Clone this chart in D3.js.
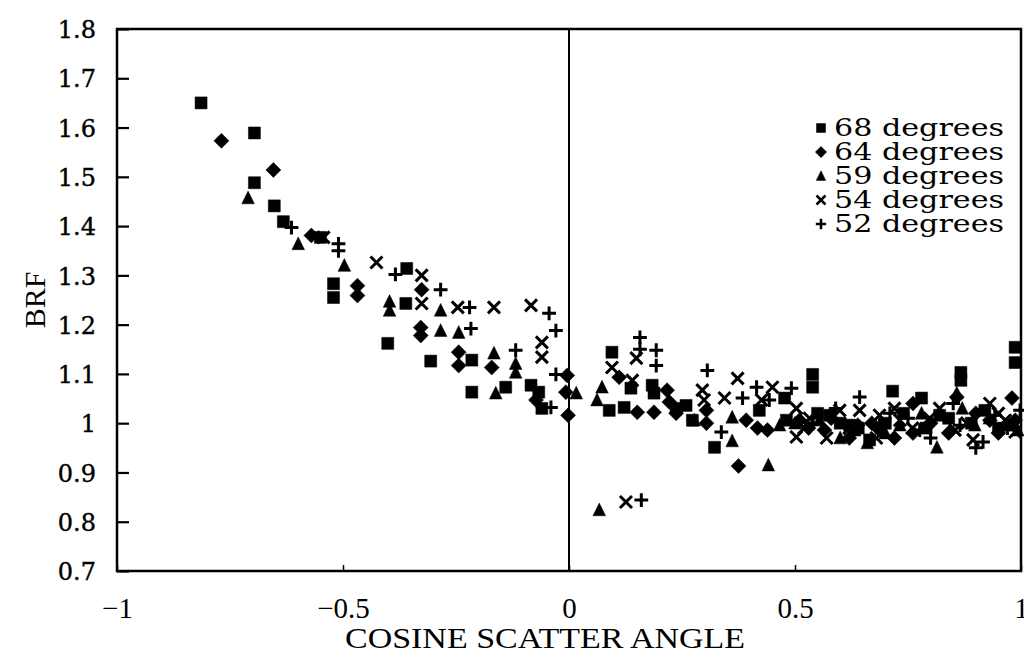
<!DOCTYPE html>
<html>
<head>
<meta charset="utf-8">
<script src="https://cdn.jsdelivr.net/npm/d3@7"></script>
<style>
  html, body { margin: 0; padding: 0; background: #fff; }
  svg { display: block; }
</style>
</head>
<body>
<svg id="chart" width="1024" height="654"></svg>
<script>
// BRF versus cosine of scatter angle, one series per solar zenith angle.
const seriesNames = ["68 degrees", "64 degrees", "59 degrees", "54 degrees", "52 degrees"];
const seriesShapes = ["square", "diamond", "triangle", "cross", "plus"];

const xTicks = [-1, -0.5, 0, 0.5, 1];
const xTickLabels = ["\u22121", "\u22120.5", "0", "0.5", "1"];
const yTicks = [0.7, 0.8, 0.9, 1.0, 1.1, 1.2, 1.3, 1.4, 1.5, 1.6, 1.7, 1.8];
const yTickLabels = ["0.7", "0.8", "0.9", "1", "1.1", "1.2", "1.3", "1.4", "1.5", "1.6", "1.7", "1.8"];

// [cosine scatter angle, BRF]
const deg68 = [
  [-0.814, 1.650], [-0.696, 1.589], [-0.696, 1.488], [-0.652, 1.441], [-0.632, 1.409],
  [-0.550, 1.377], [-0.521, 1.283], [-0.521, 1.255], [-0.359, 1.314], [-0.361, 1.243],
  [-0.401, 1.162], [-0.306, 1.126], [-0.215, 1.128], [-0.215, 1.063], [-0.140, 1.073],
  [-0.084, 1.077], [-0.067, 1.063], [-0.060, 1.030], [0.095, 1.144], [0.089, 1.026],
  [0.122, 1.032], [0.137, 1.071], [0.184, 1.077], [0.188, 1.061], [0.237, 1.030],
  [0.259, 1.036], [0.273, 1.006], [0.322, 0.951], [0.477, 1.051], [0.481, 1.006],
  [0.539, 1.099], [0.539, 1.073], [0.576, 1.016], [0.621, 0.996], [0.716, 1.065],
  [0.780, 1.051], [0.820, 1.016], [0.867, 1.103], [0.867, 1.087], [0.920, 1.026],
  [0.987, 1.154], [0.987, 1.123], [0.976, 0.996], [0.665, 0.966], [0.421, 1.026],
  [0.550, 1.020], [0.600, 1.000], [0.640, 0.990], [0.700, 1.000], [0.740, 1.020],
  [0.790, 0.990], [0.840, 1.010], [0.890, 1.000], [0.950, 0.990]
];
const deg64 = [
  [-0.769, 1.573], [-0.654, 1.514], [-0.570, 1.381], [-0.468, 1.279], [-0.468, 1.259],
  [-0.326, 1.271], [-0.328, 1.194], [-0.328, 1.178], [-0.244, 1.144], [-0.244, 1.117],
  [-0.171, 1.113], [-0.073, 1.047], [-0.004, 1.097], [-0.007, 1.063], [-0.002, 1.016],
  [0.111, 1.093], [0.151, 1.022], [0.188, 1.022], [0.217, 1.067], [0.222, 1.043],
  [0.237, 1.020], [0.304, 1.026], [0.304, 1.000], [0.375, 0.913], [0.392, 1.006],
  [0.417, 0.990], [0.439, 0.986], [0.510, 1.006], [0.565, 0.986], [0.639, 0.996],
  [0.687, 0.986], [0.761, 1.040], [0.761, 0.980], [0.858, 1.053], [0.931, 1.006],
  [0.980, 1.051], [0.987, 1.006],
  [0.530, 0.990], [0.580, 1.010], [0.620, 0.970], [0.670, 1.000], [0.720, 0.970],
  [0.800, 1.000], [0.840, 0.980], [0.900, 1.020], [0.950, 0.980]
];
const deg59 = [
  [-0.710, 1.457], [-0.599, 1.364], [-0.497, 1.320], [-0.397, 1.247], [-0.397, 1.229],
  [-0.284, 1.229], [-0.284, 1.188], [-0.244, 1.184], [-0.166, 1.142], [-0.118, 1.121],
  [-0.118, 1.103], [-0.162, 1.061], [0.016, 1.061], [0.073, 1.073], [0.062, 1.047],
  [0.067, 0.824], [0.277, 1.006], [0.361, 0.964], [0.441, 0.915], [0.361, 1.012],
  [0.466, 0.996], [0.554, 1.006], [0.632, 0.986], [0.732, 0.996], [0.814, 0.951],
  [0.858, 1.061], [0.898, 0.996], [0.993, 0.986],
  [0.500, 1.000], [0.600, 0.970], [0.660, 0.960], [0.700, 0.980], [0.780, 1.020],
  [0.870, 1.030], [0.930, 1.010]
];
const deg54 = [
  [-0.543, 1.377], [-0.426, 1.326], [-0.326, 1.300], [-0.326, 1.243], [-0.246, 1.235],
  [-0.166, 1.235], [-0.084, 1.239], [-0.060, 1.164], [-0.060, 1.134], [0.095, 1.113],
  [0.149, 1.132], [0.140, 1.087], [0.126, 0.840], [0.295, 1.067], [0.299, 1.047],
  [0.373, 1.091], [0.344, 1.051], [0.450, 1.073], [0.426, 1.047], [0.503, 1.030],
  [0.503, 0.972], [0.532, 1.010], [0.599, 1.026], [0.643, 1.026], [0.687, 1.016],
  [0.732, 1.006], [0.798, 1.010], [0.854, 0.986], [0.894, 0.966], [0.931, 1.040],
  [0.965, 1.006], [0.987, 0.982],
  [0.520, 0.990], [0.570, 0.970], [0.620, 0.990], [0.680, 0.970], [0.720, 1.030],
  [0.760, 0.990], [0.820, 1.030], [0.880, 1.000], [0.950, 1.020]
];
const deg52 = [
  [-0.614, 1.397], [-0.510, 1.364], [-0.510, 1.350], [-0.384, 1.302], [-0.284, 1.271],
  [-0.220, 1.235], [-0.044, 1.223], [-0.029, 1.188], [-0.217, 1.192], [-0.118, 1.148],
  [-0.029, 1.099], [-0.040, 1.032], [0.157, 1.174], [0.157, 1.150], [0.193, 1.148],
  [0.193, 1.117], [0.160, 0.844], [0.306, 1.107], [0.337, 0.982], [0.384, 1.051],
  [0.415, 1.073], [0.492, 1.071], [0.443, 1.047], [0.643, 1.053], [0.687, 0.996],
  [0.776, 0.986], [0.865, 0.996], [0.916, 0.962], [0.942, 1.016], [0.998, 1.026],
  [0.540, 1.000], [0.590, 1.030], [0.710, 1.020], [0.750, 1.010], [0.800, 0.970],
  [0.850, 1.040], [0.900, 0.950], [0.970, 0.990]
];
const seriesData = [deg68, deg64, deg59, deg54, deg52];

const svg = d3.select("#chart");
const plot = { left: 117, right: 1021, top: 29, bottom: 571 };

const x = d3.scaleLinear().domain([-1, 1]).range([plot.left, plot.right]);
const y = d3.scaleLinear().domain([0.7, 1.8]).range([plot.bottom, plot.top]);

const ink = "#000";
const serif = "'Liberation Serif', 'DejaVu Serif', serif";

// Marker path generators, centred on the origin; r is the half-width.
function markerPath(shape, r) {
  const p = d3.path();
  if (shape === "square") {
    p.rect(-r, -r, 2 * r, 2 * r);
  } else if (shape === "diamond") {
    const d = r * 1.25;
    p.moveTo(0, -d); p.lineTo(d, 0); p.lineTo(0, d); p.lineTo(-d, 0); p.closePath();
  } else if (shape === "triangle") {
    const h = r * 1.15;
    p.moveTo(0, -h); p.lineTo(r * 1.05, h * 0.85); p.lineTo(-r * 1.05, h * 0.85); p.closePath();
  } else if (shape === "cross") {
    p.moveTo(-r, -r); p.lineTo(r, r); p.moveTo(r, -r); p.lineTo(-r, r);
  } else {
    const q = r * 1.15;
    p.moveTo(-q, 0); p.lineTo(q, 0); p.moveTo(0, -q); p.lineTo(0, q);
  }
  return p.toString();
}
const isStroked = s => s === "cross" || s === "plus";

// Frame
svg.append("rect")
  .attr("x", plot.left).attr("y", plot.top)
  .attr("width", plot.right - plot.left).attr("height", plot.bottom - plot.top)
  .attr("fill", "none").attr("stroke", ink).attr("stroke-width", 2.5);

// Y axis: inward ticks on the left edge
const yAxis = d3.axisRight(y).tickValues(yTicks).tickSize(12)
  .tickFormat((d, i) => yTickLabels[i]);
const yAxisG = svg.append("g").attr("transform", `translate(${plot.left},0)`).call(yAxis);
yAxisG.select(".domain").remove();
yAxisG.selectAll(".tick line").attr("stroke", ink).attr("stroke-width", 2.2);
yAxisG.selectAll(".tick text")
  .attr("x", -21).attr("text-anchor", "end").attr("dy", "0.36em")
  .attr("fill", ink).attr("stroke", ink).attr("stroke-width", 0.4)
  .style("font-family", "'DejaVu Serif', serif").style("font-size", "24px");

// X axis: short inward ticks on the bottom edge
const xAxis = d3.axisTop(x).tickValues(xTicks).tickSize(6)
  .tickFormat((d, i) => xTickLabels[i]);
const xAxisG = svg.append("g").attr("transform", `translate(0,${plot.bottom})`).call(xAxis);
xAxisG.select(".domain").remove();
xAxisG.selectAll(".tick line").attr("stroke", ink).attr("stroke-width", 1.5);
xAxisG.selectAll(".tick text")
  .attr("y", 47).attr("dy", 0)
  .attr("fill", ink)
  .style("font-family", serif).style("font-size", "29px");

// Vertical reference line at zero
svg.append("line")
  .attr("x1", x(0)).attr("x2", x(0))
  .attr("y1", plot.top).attr("y2", plot.bottom)
  .attr("stroke", ink).attr("stroke-width", 2);

// Axis titles
svg.append("text")
  .attr("x", 545).attr("y", 648)
  .attr("text-anchor", "middle")
  .attr("textLength", 400).attr("lengthAdjust", "spacingAndGlyphs")
  .attr("fill", ink)
  .style("font-family", serif).style("font-size", "29px")
  .text("COSINE SCATTER ANGLE");

svg.append("text")
  .attr("transform", "translate(45,300) rotate(-90)")
  .attr("text-anchor", "middle")
  .attr("fill", ink)
  .style("font-family", serif).style("font-size", "30px")
  .text("BRF");

// Points
seriesData.forEach((pts, i) => {
  const shape = seriesShapes[i];
  svg.append("g").attr("class", "series-" + i)
    .selectAll("path")
    .data(pts)
    .join("path")
    .attr("transform", d => `translate(${x(d[0])},${y(d[1])})`)
    .attr("d", markerPath(shape, 6))
    .attr("fill", isStroked(shape) ? "none" : ink)
    .attr("stroke", ink)
    .attr("stroke-width", isStroked(shape) ? 3 : 0.5);
});

// Legend
const legend = svg.append("g").attr("transform", "translate(821,128)");
seriesNames.forEach((name, i) => {
  const row = legend.append("g").attr("transform", `translate(0,${i * 24})`);
  const shape = seriesShapes[i];
  row.append("path")
    .attr("d", markerPath(shape, 4.5))
    .attr("fill", isStroked(shape) ? "none" : ink)
    .attr("stroke", ink)
    .attr("stroke-width", isStroked(shape) ? 2.5 : 0.5);
  row.append("text")
    .attr("x", 13).attr("dy", "0.33em")
    .attr("textLength", 170).attr("lengthAdjust", "spacingAndGlyphs")
    .attr("fill", ink)
    .style("font-family", "'DejaVu Serif', serif").style("font-size", "24px")
    .text(name);
});
</script>
</body>
</html>
